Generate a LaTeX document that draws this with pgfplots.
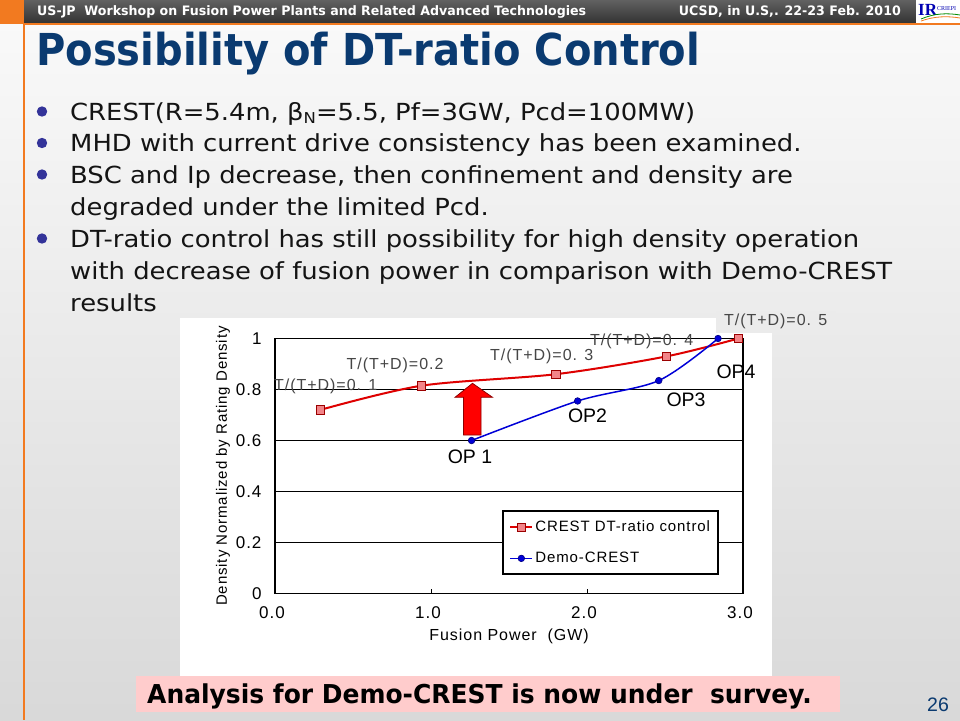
\documentclass[border=0pt]{standalone}
\usepackage{pgfplots}
\pgfplotsset{compat=1.18}
\usepackage{fontspec}
\setmainfont{DejaVu Sans}
\newfontfamily\slidefont[FakeStretch=1.1]{DejaVu Sans}
\newfontfamily\titlefont[FakeStretch=0.91]{DejaVu Sans}
\newfontfamily\headfont[FakeStretch=0.97]{DejaVu Sans}
\newfontfamily\notefont[FakeStretch=0.96]{DejaVu Sans}
\newfontfamily\chartfont[LetterSpace=6]{Liberation Sans}
\newfontfamily\plainsans{Liberation Sans}
\newfontfamily\logofont{Liberation Serif}

\definecolor{hdrorange}{RGB}{242,122,32}
\definecolor{navy}{RGB}{10,58,112}
\definecolor{bulletblue}{RGB}{51,51,153}
\definecolor{txt}{RGB}{20,20,20}
\definecolor{notepink}{RGB}{255,204,204}
\definecolor{crestred}{RGB}{222,0,0}
\definecolor{crestpink}{RGB}{242,132,136}
\definecolor{demoblue}{RGB}{0,0,215}
\definecolor{annot}{RGB}{70,70,70}

\begin{document}
\begin{tikzpicture}[x=1pt,y=1pt]
\useasboundingbox (0,0) rectangle (960,-720);
% slide background
\shade[top color=white!98!black, bottom color=white!85!black] (0,0) rectangle (960,-720);
% header
\fill[hdrorange] (0,0) rectangle (24,-24);
\shade[top color=black!62, bottom color=black!80] (24,0) rectangle (916,-23);
\fill[white] (916,0) rectangle (960,-23);
\fill[hdrorange] (24,-23) rectangle (960,-25);
\draw[hdrorange, line width=1.3pt] (24,-24) -- (24,-720);
\node[anchor=base west, inner sep=0, text=white] at (37,-16)
  {\headfont\bfseries\fontsize{13}{13}\selectfont US-JP\ \ Workshop on Fusion Power Plants and Related Advanced Technologies};
\node[anchor=base east, inner sep=0, text=white] at (901,-16)
  {\headfont\bfseries\fontsize{13}{13}\selectfont UCSD, in U.S,. 22-23 Feb. 2010};
% logo
\node[anchor=base west, inner sep=0, text=blue!70!black] at (918,-16) {\logofont\bfseries\fontsize{17}{17}\selectfont IR};
\node[anchor=base west, inner sep=0, text=blue!70!black] at (937,-10) {\logofont\fontsize{6}{6}\selectfont CRIEPI};
\draw[green!55!black, line width=0.8pt] (921,-19) .. controls (935,-13) and (948,-13) .. (960,-15);
\draw[hdrorange, line width=0.8pt] (921,-21) .. controls (935,-16) and (948,-16) .. (960,-18);

% title
\node[anchor=base west, inner sep=0, text=navy] at (36,-65)
  {\titlefont\bfseries\fontsize{44}{48}\selectfont Possibility of DT-ratio Control};

% bullets
\foreach \yb in {120,151.5,183,247}
  \fill[bulletblue] (42,-\yb+8.5) circle (5.2);
\begin{scope}[every node/.style={anchor=base west, inner sep=0, text=txt, font=\slidefont\fontsize{23.5}{26}\selectfont}]
\node at (70,-120) {CREST(R=5.4m, β\raisebox{-3pt}{\fontsize{15}{15}\selectfont N}=5.5, Pf=3GW, Pcd=100MW)};
\node at (70,-151.5) {MHD with current drive consistency has been examined.};
\node at (70,-183) {BSC and Ip decrease, then confinement and density are};
\node at (70,-215) {degraded under the limited Pcd.};
\node at (70,-247) {DT-ratio control has still possibility for high density operation};
\node at (70,-279) {with decrease of fusion power in comparison with Demo-CREST};
\node at (70,-311) {results};
\end{scope}

% chart area
\fill[white] (180,-318) rectangle (772,-676);
\fill[white!92!black] (716,-311) rectangle (836,-333);

\begin{axis}[
  at={(275pt,-593.5pt)}, anchor=south west,
  scale only axis, width=468pt, height=255pt,
  xmin=0, xmax=3, ymin=0, ymax=1,
  clip=false,
  axis line style={line width=1.6pt},
  xtick={0,1,2,3}, xticklabels={0.0,1.0,2.0,3.0},
  ytick={0,0.2,0.4,0.6,0.8,1}, yticklabels={0,0.2,0.4,0.6,0.8,1},
  xtick pos=left, tick align=inside, major tick length=5pt,
  xtick style={line width=0.8pt, black},
  ytick style={draw=none},
  ymajorgrids, grid style={black, line width=0.7pt},
  /pgf/number format/assume math mode=true,
  ticklabel style={font=\chartfont\fontsize{17}{17}\selectfont},
  xticklabel style={yshift=-10pt, xshift=-3pt},
  yticklabel style={xshift=-10pt},
  xlabel={Fusion Power\ \ (GW)},
  ylabel={Density Normalized by Rating Density},
  every axis x label/.style={at={(axis description cs:0.5,-0.169)}, anchor=center, font=\chartfont\fontsize{16}{16}\selectfont},
  every axis y label/.style={at={(axis description cs:-0.111,0.5)}, rotate=90, anchor=center, font=\chartfont\fontsize{15}{15}\selectfont},
  legend style={at={(axis description cs:0.486,0.327)}, anchor=north west,
    draw=black, line width=1.8pt, fill=white,
    font=\chartfont\fontsize{15}{15}\selectfont,
    inner xsep=6pt, inner ysep=8pt, row sep=15pt},
  legend cell align=left,
  legend image code/.code={\draw[mark repeat=2,mark phase=2,#1] plot coordinates {(0pt,0pt)(11pt,0pt)(22pt,0pt)};},
]
\addplot[crestred, line width=2pt, smooth, mark=square*,
  mark options={fill=crestpink, draw=crestred!70!black, line width=0.7pt, mark size=4.2pt}]
  coordinates {(0.29,0.72) (0.94,0.815) (1.80,0.86) (2.51,0.93) (2.97,1.0)};
\addlegendentry{CREST DT-ratio control}
\addplot[demoblue, line width=1.5pt, smooth, mark=*,
  mark options={fill=demoblue, draw=blue!50!black, line width=0.6pt, mark size=3.3pt}]
  coordinates {(1.26,0.60) (1.94,0.755) (2.46,0.835) (2.84,1.0)};
\addlegendentry{Demo-CREST}
\end{axis}

% arrow
\filldraw[fill=red, draw=red!55!black, line width=0.8pt]
  (463.5,-435) -- (481,-435) -- (481,-397.3) -- (492.5,-397.3) -- (472.5,-383.3)
  -- (455,-397.3) -- (463.5,-397.3) -- cycle;

% annotations
\begin{scope}[every node/.style={anchor=west, inner sep=0, text=annot, font=\chartfont\fontsize{16}{16}\selectfont}]
\node at (274,-386.7) {T/(T+D)=0. 1};
\node at (346.5,-365) {T/(T+D)=0.2};
\node at (490,-356.7) {T/(T+D)=0. 3};
\node at (590,-341.5) {T/(T+D)=0. 4};
\node at (724,-321.7) {T/(T+D)=0. 5};
\end{scope}
\begin{scope}[every node/.style={anchor=center, inner sep=0, text=black, font=\plainsans\fontsize{19.5}{20}\selectfont}]
\node at (470,-456.7) {OP 1};
\node at (587.5,-416) {OP2};
\node at (686,-399.3) {OP3};
\node at (736,-371.7) {OP4};
\end{scope}

% bottom note
\fill[notepink] (136,-676) rectangle (840,-712);
\node[anchor=base west, inner sep=0, text=black] at (147,-703)
  {\notefont\bfseries\fontsize{26}{28}\selectfont Analysis for Demo-CREST is now under\ \ survey.};
\node[anchor=center, inner sep=0, text=navy] at (938,-705) {\plainsans\fontsize{19.5}{20}\selectfont 26};
\end{tikzpicture}
\end{document}
